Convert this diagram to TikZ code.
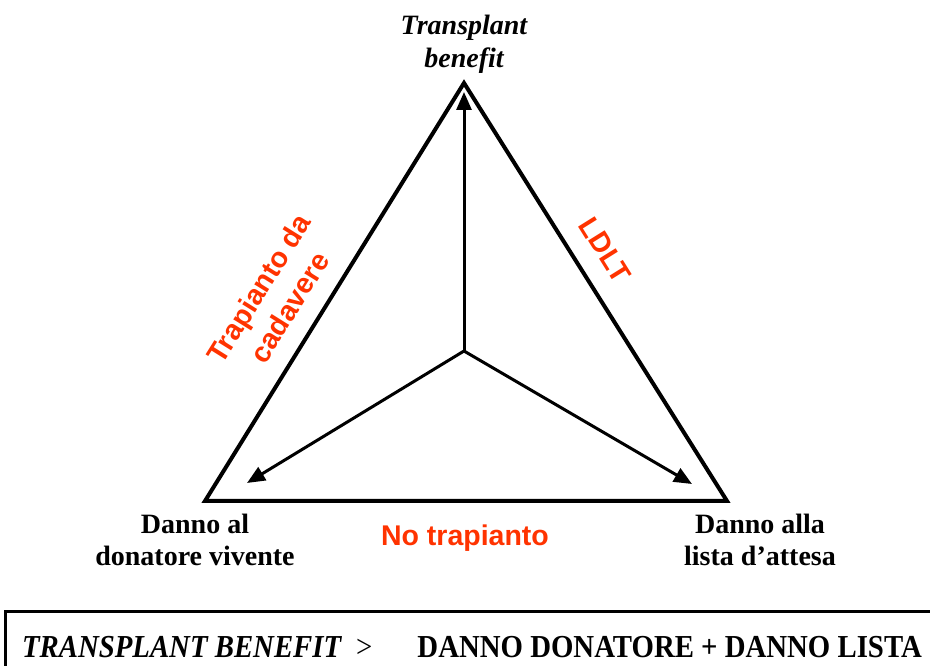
\documentclass[tikz,border=0pt]{standalone}
\usepackage{fontspec}
\setmainfont{Liberation Serif}
\newfontfamily\labelsans{Liberation Sans}
\newfontfamily\boxserif[FakeStretch=0.9]{Liberation Serif}
\usetikzlibrary{arrows.meta}
\definecolor{orangered}{RGB}{255,51,0}
\tikzstyle{corner}=[font=\fontsize{28}{32}\selectfont\bfseries, align=center, inner sep=0pt]
\tikzstyle{side}=[font=\labelsans\fontsize{28.5}{36}\selectfont\bfseries, text=orangered, align=center, inner sep=0pt]
\tikzstyle{arr}=[-{Triangle[length=18pt,width=15pt]}, line width=3pt]

\begin{document}
\begin{tikzpicture}[x=1pt, y=1pt, line width=4pt]
            \useasboundingbox (0,0) rectangle (930,665);
            \clip (0,0) rectangle (930,665);
            \coordinate (apex) at (464,582);
            \coordinate (left) at (205,164);
            \coordinate (right) at (727,164);
            \coordinate (mid) at (464,314);
            \coordinate (tipT) at (464,573);
            \coordinate (tipL) at (247,182);
            \coordinate (tipR) at (692,181);
            \draw (apex) -- (left) -- (right) -- cycle;
            \draw[arr] (mid) -- (tipT);
            \draw[arr] (mid) -- (tipL);
            \draw[arr] (mid) -- (tipR);
            \node[corner, font=\fontsize{28}{33}\selectfont\bfseries\itshape] (benefit) at (464,621) {Transplant\\benefit};
            \node[corner] (donor) at (195,125) {Danno al\\donatore vivente};
            \node[corner] (waitlist) at (760,125) {Danno alla\\lista d’attesa};
            \node[side] (none) at (465,127) {No trapianto};
            \node[side, rotate=58] (cadaver) at (274,367) {Trapianto da\\cadavere};
            \node[side, rotate=-58] (ldlt) at (605,415) {LDLT};
            \draw[line width=3pt] (5,-20) rectangle (950,54);
            \node[corner, font=\boxserif\fontsize{32}{32}\selectfont\bfseries, anchor=base west] (rule) at (20,8) {{\itshape TRANSPLANT BENEFIT}\hspace{15pt}{\mdseries >}\hspace{45pt}DANNO DONATORE + DANNO LISTA};
        \end{tikzpicture}
\end{document}
